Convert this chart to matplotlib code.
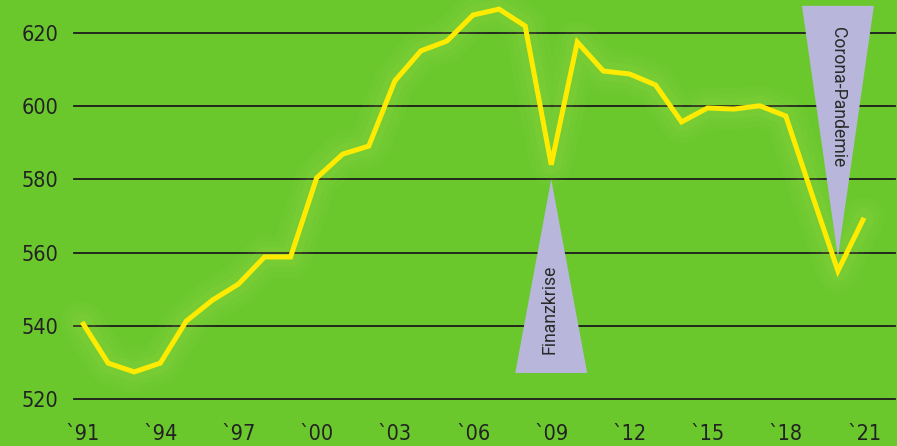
import numpy as np
import matplotlib.pyplot as plt
from matplotlib.patches import Polygon

# yearly values
years = list(range(1991, 2022))
values = [541.0, 529.8, 527.4, 529.8, 541.3, 547.0, 551.4, 558.8, 558.8, 580.4,
          586.9, 589.1, 606.9, 615.1, 617.8, 624.9, 626.5, 621.9, 584.0, 617.5,
          609.6, 608.8, 605.8, 595.7, 599.5, 599.2, 600.1, 597.3, 576.0, 555.0,
          569.5]

tick_years = list(range(1991, 2022, 3))
tick_labels = ["`" + str(y)[2:] for y in tick_years]
y_ticks = [520, 540, 560, 580, 600, 620]

# event markers: (label, apex year, apex value, wide-end value)
events = [
    ("Finanzkrise", 2009, 580.0, 527.1),
    ("Corona-Pandemie", 2020, 558.8, 627.4),
]
half_width = 1.38

green = "#6ac82d"
yellow = "#ffeb00"
lavender = "#b9b6dc"
txt = "#222222"

fig = plt.figure(figsize=(8.97, 4.46), dpi=100, facecolor=green)
ax = fig.add_axes([74 / 897, 47 / 446, 821 / 897, 399 / 446])
ax.set_facecolor(green)
ax.set_xlim(1990.69, 2022.19)
ax.set_ylim(520, 629.0)

for v in y_ticks:
    ax.axhline(v, color="#1c1c1c", lw=1.3, zorder=1, clip_on=False)

# soft halo under the line
for lw, a in [(30, 0.03), (22, 0.04), (14, 0.06)]:
    ax.plot(years, values, color="#dcee70", lw=lw, alpha=a,
            solid_joinstyle="round", solid_capstyle="round", zorder=2, clip_on=False)

for label, yr, apex, base in events:
    tri = Polygon([[yr - half_width, base], [yr + half_width, base], [yr, apex]],
                  closed=True, facecolor=lavender, edgecolor="none", zorder=3, clip_on=False)
    ax.add_patch(tri)

ax.plot(years, values, color=yellow, lw=3.6, solid_joinstyle="miter",
        solid_capstyle="butt", zorder=4, clip_on=False)

ax.text(2009 - 0.08, 544.6, "Finanzkrise", rotation=90, ha="center", va="center",
        fontsize=12.7, family="Roboto", color="#2a2a2a", zorder=5)
ax.text(2020.02, 602.5, "Corona-Pandemie", rotation=-90, ha="center", va="center",
        fontsize=12.7, family="Roboto", color="#2a2a2a", zorder=5)

ax.set_yticks(y_ticks)
ax.set_yticklabels([str(v) for v in y_ticks])
ax.set_xticks(tick_years)
ax.set_xticklabels(tick_labels)
ax.tick_params(axis="y", length=0, pad=11, labelsize=15.5, labelcolor=txt)
ax.tick_params(axis="x", length=0, pad=18, labelsize=15.5, labelcolor=txt)
for lab in ax.get_xticklabels() + ax.get_yticklabels():
    lab.set_family("DejaVu Sans")
    lab.set_stretch("condensed")

for s in ax.spines.values():
    s.set_visible(False)

fig.savefig("out.png", dpi=100, facecolor=green)
